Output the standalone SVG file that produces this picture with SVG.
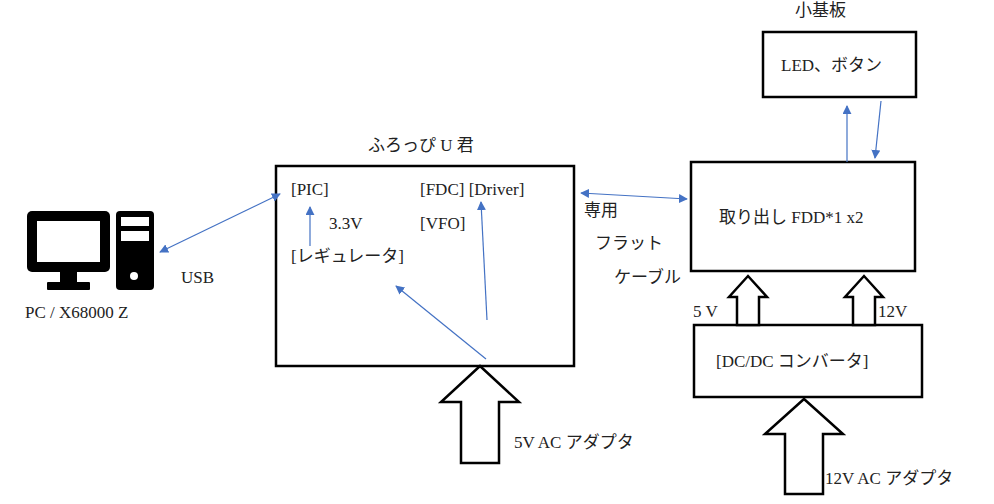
<svg xmlns="http://www.w3.org/2000/svg" width="994" height="504" viewBox="0 0 994 504">
<style>
text{font-family:"Liberation Serif","Noto Sans CJK JP",serif;font-size:17px;fill:#222}
.box{fill:#fff;stroke:#000;stroke-width:2.5}
.ln{stroke:#4472c4;stroke-width:1.2;fill:none}
.blk{fill:#fff;stroke:#000;stroke-width:2.5;stroke-linejoin:miter}
</style>
<defs>
<marker id="a" viewBox="0 0 10 10" refX="9" refY="5" markerWidth="9" markerHeight="9" markerUnits="userSpaceOnUse" orient="auto-start-reverse"><path d="M0,0L10,5L0,10z" fill="#4472c4"/></marker>
</defs>
<rect width="994" height="504" fill="#fff"/>
<g id="pc">
<rect x="27" y="211" width="83" height="61" rx="5" fill="#000"/>
<rect x="37" y="221" width="63" height="41" fill="#fff"/>
<rect x="60" y="271" width="17" height="12" fill="#000"/>
<rect x="47" y="282" width="43" height="8" rx="1" fill="#000"/>
<rect x="116" y="211" width="38" height="79" rx="4" fill="#000"/>
<rect x="121" y="217" width="28" height="9" fill="#fff"/>
<rect x="121" y="231" width="28" height="10" fill="#fff"/>
<circle cx="134" cy="276" r="4" fill="#fff"/>
<text x="25" y="318">PC / X68000 Z</text>
</g>
<g id="main">
<rect class="box" x="276" y="166" width="298" height="200"/>
<text x="368" y="151">ふろっぴ U 君</text>
<text x="291" y="195">[PIC]</text>
<text x="420" y="195">[FDC] [Driver]</text>
<text x="329" y="229">3.3V</text>
<text x="420" y="229">[VFO]</text>
<text x="291" y="262">[レギュレータ]</text>
</g>
<g id="fdd">
<rect class="box" x="691" y="162" width="224" height="109"/>
<text x="719" y="223">取り出し FDD*1 x2</text>
</g>
<g id="led">
<rect class="box" x="763" y="32" width="153" height="65"/>
<text x="795" y="16">小基板</text>
<text x="781" y="71">LED、ボタン</text>
</g>
<g id="dcdc">
<rect class="box" x="694" y="325" width="228" height="72"/>
<text x="716" y="367">[DC/DC コンバータ]</text>
</g>
<g id="labels">
<text x="181" y="283">USB</text>
<text x="584" y="216">専用</text>
<text x="595" y="249">フラット</text>
<text x="614" y="283">ケーブル</text>
<text x="693" y="317">5 V</text>
<text x="878" y="317">12V</text>
<text x="514" y="448">5V AC  アダプタ</text>
<text x="825" y="484">12V AC アダプタ</text>
</g>
<g id="connectors">
<line class="ln" x1="160" y1="252" x2="280" y2="194" marker-start="url(#a)" marker-end="url(#a)"/>
<line class="ln" x1="310" y1="246" x2="310" y2="207" marker-end="url(#a)"/>
<line class="ln" x1="487" y1="320" x2="481" y2="202" marker-end="url(#a)"/>
<line class="ln" x1="486" y1="359" x2="396" y2="286" marker-end="url(#a)"/>
<line class="ln" x1="581" y1="193" x2="687" y2="199" marker-start="url(#a)" marker-end="url(#a)"/>
<line class="ln" x1="847" y1="162" x2="847" y2="106" marker-end="url(#a)"/>
<line class="ln" x1="881" y1="101" x2="875" y2="158" marker-end="url(#a)"/>
<path class="blk" d="M461,463V402H441L480,366L519,402H499V463Z"/>
<path class="blk" d="M785,494V434H765L804,399L843,434H823V494Z"/>
<path class="blk" d="M737,325V297H729L748,276L767,297H759V325Z"/>
<path class="blk" d="M853,325V297H845L864,276L883,297H875V325Z"/>
</g>
</svg>
